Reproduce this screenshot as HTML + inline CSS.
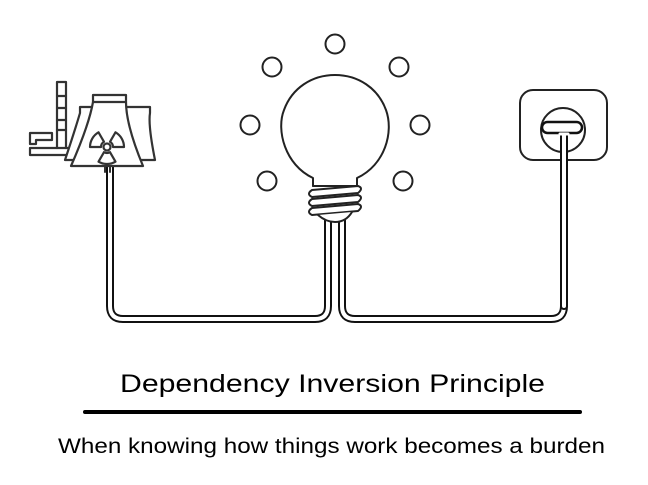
<!DOCTYPE html>
<html><head><meta charset="utf-8"><style>
html,body{margin:0;padding:0;background:#fff;width:648px;height:485px;overflow:hidden}
</style></head><body>
<svg width="648" height="485" viewBox="0 0 648 485" xmlns="http://www.w3.org/2000/svg">
<g fill="none" stroke-linecap="round" stroke-linejoin="round">
<!-- wires -->
<g stroke="#111" stroke-width="8">
<path d="M110 165 V306 Q110 319 123 319 H315 Q328 319 328 306 V215"/>
<path d="M342 215 V306 Q342 319 355 319 H551 Q564 319 564 306 V130"/>
</g>
<g stroke="#fff" stroke-width="4">
<path d="M110 165 V306 Q110 319 123 319 H315 Q328 319 328 306 V215"/>
<path d="M342 215 V306 Q342 319 355 319 H551 Q564 319 564 306 V130"/>
</g>
<!-- bulb rays -->
<g stroke="#222" stroke-width="2" fill="#fff">
<circle cx="335" cy="44" r="9.5"/>
<circle cx="272" cy="67" r="9.5"/>
<circle cx="399" cy="67" r="9.5"/>
<circle cx="250" cy="125" r="9.5"/>
<circle cx="420" cy="125" r="9.5"/>
<circle cx="267" cy="181" r="9.5"/>
<circle cx="403" cy="181" r="9.5"/>
<!-- bulb -->
<path d="M313 178 C285 165 276 130 284 110 C292 88 312 75 335 75 C358 75 378 88 386 110 C394 132 385 165 357 178 V186 H313 Z"/>
<path d="M313 186 H357"/>
<path d="M312 190 L358 186 Q364 188 358 193 L312 197 Q306 194 312 190Z"/>
<path d="M312 199 L358 195 Q364 197 358 202 L312 206 Q306 203 312 199Z"/>
<path d="M312 208 L358 204 Q364 206 358 211 L312 215 Q306 212 312 208Z"/>
<path d="M318 215 Q326 222 335 222 Q346 222 352 212"/>
</g>
<!-- socket -->
<g stroke="#222" stroke-width="2">
<rect x="520" y="90" width="87" height="70" rx="13" fill="#fff"/>
<circle cx="563" cy="130" r="22" fill="#fff"/>
</g>
<path d="M564 130 V306" stroke="#111" stroke-width="8"/>
<path d="M564 132 V306" stroke="#fff" stroke-width="4"/>
<rect x="542" y="122" width="40" height="11" rx="5.5" fill="#fff" stroke="#111" stroke-width="2.5"/>
<path d="M560 134 h8" stroke="#fff" stroke-width="3"/>
<!-- reactor -->
<g stroke="#333" stroke-width="2.2" fill="#fff">
<path d="M57 82 H66 V130 H57 Z"/>
<path d="M57 96 H66 M57 108 H66 M57 120 H66"/>
<path d="M30 133 H52 V140 H36 V144 H30 Z" />
<path d="M30 148 H70 V155 H30 Z"/>
<path d="M57 130 V148 M66 130 V148"/>
<path d="M120 107 H150 V113 Q148 125 155 160 H115 Z"/>
<path d="M80 107 H95 L92 113 Q88 130 82 160 H65 Q75 130 80 113Z"/>
<path d="M93 95 H126 V102 Q126 125 143 166 H71 Q89 125 93 102 Z"/>
<path d="M93 102 H126"/>
<path d="M101 147 L90 147 A17 17 0 0 1 98.5 132.3 L104 141.8 A6 6 0 0 0 101 147Z"/>
<path d="M110 141.8 L115.5 132.3 A17 17 0 0 1 124 147 L113 147 A6 6 0 0 0 110 141.8Z"/>
<path d="M110 152.2 L115.5 161.7 A17 17 0 0 1 98.5 161.7 L104 152.2 A6 6 0 0 0 110 152.2Z"/>
<circle cx="107" cy="147" r="3.5"/>
</g>
<path d="M105 167 V172 M110 167 V172" stroke="#333" stroke-width="2"/>
</g>
<text x="120" y="392" font-family="Liberation Sans, sans-serif" font-size="25" textLength="425" lengthAdjust="spacingAndGlyphs" fill="#000">Dependency Inversion Principle</text>
<line x1="85" y1="412" x2="580" y2="412" stroke="#000" stroke-width="4" stroke-linecap="round"/>
<text x="58" y="453" font-family="Liberation Sans, sans-serif" font-size="21" textLength="547" lengthAdjust="spacingAndGlyphs" fill="#000">When knowing how things work becomes a burden</text>
</svg>
</body></html>
